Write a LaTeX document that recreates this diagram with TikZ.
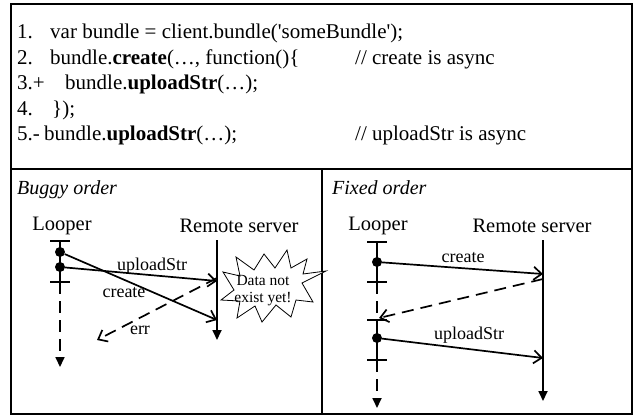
\documentclass[tikz,border=0pt]{standalone}
\usepackage{fontspec}
\setmainfont{Liberation Serif}
\usetikzlibrary{arrows.meta}
\begin{document}
\begin{tikzpicture}[x=1pt,y=-1pt,
  frame/.style={line width=1.7pt},
  codetext/.style={anchor=base west, inner sep=0pt, font=\fontsize{21}{25}\selectfont},
  titletext/.style={anchor=base west, inner sep=0pt, font=\fontsize{20}{24}\selectfont\itshape},
  head/.style={anchor=center, inner sep=0pt, font=\fontsize{20.5}{24}\selectfont},
  msglabel/.style={inner sep=0pt, font=\fontsize{18}{21}\selectfont},
  burstlabel/.style={inner sep=0pt, font=\fontsize{15.5}{18}\selectfont},
  msg/.style={line width=1.7pt, -{Straight Barb[length=8pt,width=13pt,line width=1.7pt]}},
  ret/.style={msg, dash pattern=on 12pt off 7pt},
  life/.style={line width=1.7pt, -{Triangle[length=10pt,width=9pt]}},
  lifedash/.style={life, dash pattern=on 12pt off 7pt},
  tick/.style={line width=1.7pt},
  dotc/.style={circle, fill=black, inner sep=0pt, minimum size=10pt},
]
\useasboundingbox (0,0) rectangle (636,418);
% frame
\draw[frame] (11,4) rectangle (632,414);
\draw[frame] (11,169) -- (632,169);
\draw[frame] (322,169) -- (322,414);
% code
\node[codetext] (n1) at (17,38.5) {1.};
\node[codetext] (c1) at (50,38.5) {var bundle = client.bundle(\textquotesingle someBundle\textquotesingle);};
\node[codetext] (n2) at (17,64) {2.};
\node[codetext] (c2) at (50,64) {bundle.\textbf{create}(…, function()\{};
\node[codetext] (k2) at (355,64) {// create is async};
\node[codetext] (n3) at (17,89.5) {3.+};
\node[codetext] (c3) at (65,89.5) {bundle.\textbf{uploadStr}(…);};
\node[codetext] (n4) at (17,115) {4.};
\node[codetext] (c4) at (52,115) {\});};
\node[codetext] (n5) at (17,140.5) {5.-};
\node[codetext] (c5) at (44,140.5) {bundle.\textbf{uploadStr}(…);};
\node[codetext] (k5) at (355,140.5) {// uploadStr is async};
% titles
\node[titletext] (tb) at (17,194) {Buggy order};
\node[titletext] (tf) at (332,194) {Fixed order};

% ===== Buggy order =====
\node[head] (lpA) at (62,226) {Looper};
\node[head] (rsA) at (239,226) {Remote server};
\coordinate (aTop) at (60,241);
\coordinate (aBot) at (60,282);
\coordinate (aEnd) at (60,367);
\node[dotc] (aD1) at (60,252) {};
\node[dotc] (aD2) at (60,267) {};
\draw[tick] (50,241) -- (70,241);
\draw[tick] (50,282) -- (70,282);
\draw[tick] (aTop) -- (aBot);
\draw[lifedash] (aBot) -- (aEnd);
% starburst
\draw[line width=0.8pt, fill=white] (326,271) -- (302,283) -- (313,302) -- (296,300) -- (291,317) -- (276,305) -- (262,322) -- (255,306) -- (237,318) -- (240,301) -- (221,300) -- (234,290) -- (223,272) -- (240,276) -- (236,257) -- (254,270) -- (264,254) -- (275,268) -- (287,250) -- (291,268) -- (307,259) -- (303,274) -- cycle;
\coordinate (sTop) at (217,240);
\coordinate (sEnd) at (217,340);
\draw[life] (sTop) -- (sEnd);
\coordinate (aUp) at (217,281);
\coordinate (aCr) at (217,320);
\coordinate (aErrS) at (217,278);
\coordinate (aErrE) at (97,340);
\draw[msg] (aD2) -- (aUp);
\draw[msg] (aD1) -- (aCr);
\draw[ret] (aErrS) -- (aErrE);
\node[msglabel] (lUpA) at (152,266) {uploadStr};
\node[msglabel] (lCrA) at (124,293) {create};
\node[msglabel] (lErr) at (140,330) {err};
\node[burstlabel] (bt1) at (263,280) {Data not};
\node[burstlabel] (bt2) at (263,299) {exist yet!};

% ===== Fixed order =====
\node[head] (lpB) at (378,226) {Looper};
\node[head] (rsB) at (532,226) {Remote server};
\coordinate (bTop) at (377,242);
\coordinate (bT1) at (377,282);
\coordinate (bT2) at (377,320);
\coordinate (bT3) at (377,360);
\coordinate (bEnd) at (377,408);
\node[dotc] (bD1) at (377,262) {};
\node[dotc] (bD2) at (377,338) {};
\draw[tick] (367,242) -- (387,242);
\draw[tick] (367,282) -- (387,282);
\draw[tick] (367,320) -- (387,320);
\draw[tick] (367,360) -- (387,360);
\draw[tick] (bTop) -- (bT1);
\draw[tick, dash pattern=on 12pt off 7pt] (bT1) -- (bT2);
\draw[tick] (bT2) -- (bT3);
\draw[lifedash] (bT3) -- (bEnd);
\coordinate (tTop) at (543,240);
\coordinate (tEnd) at (543,401);
\draw[life] (tTop) -- (tEnd);
\coordinate (bCr) at (543,274);
\coordinate (bRetS) at (543,279);
\coordinate (bRetE) at (379,318);
\coordinate (bUp) at (543,358);
\draw[msg] (bD1) -- (bCr);
\draw[ret] (bRetS) -- (bRetE);
\draw[msg] (bD2) -- (bUp);
\node[msglabel] (lCrB) at (463,258) {create};
\node[msglabel] (lUpB) at (469,335) {uploadStr};
\end{tikzpicture}
\end{document}
